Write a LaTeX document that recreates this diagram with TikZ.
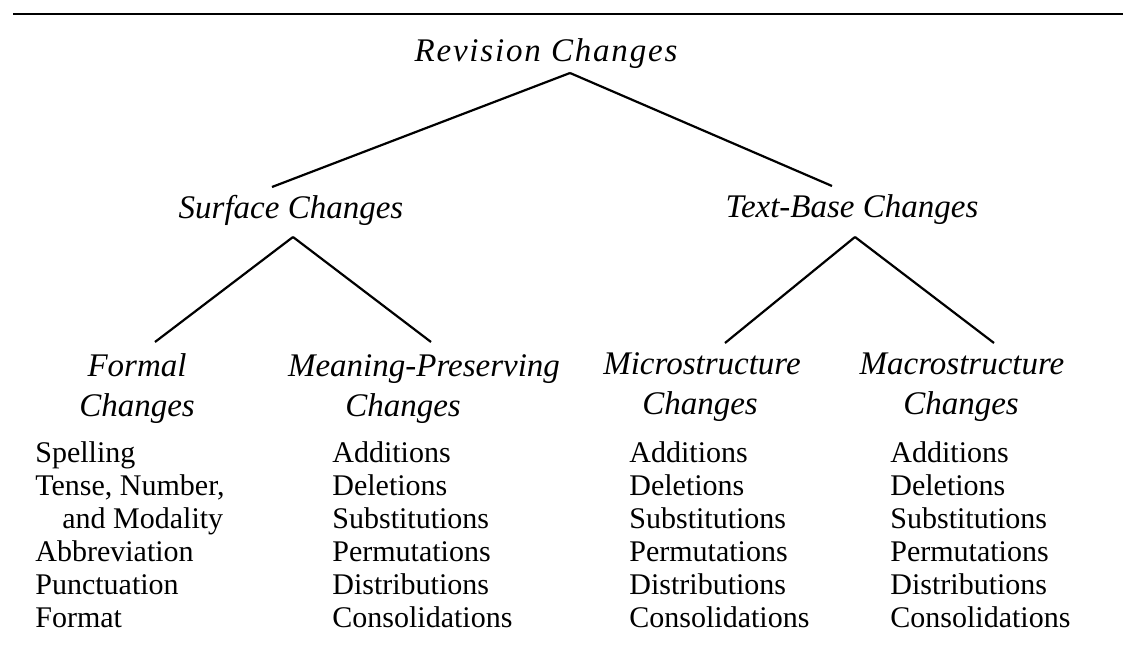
\documentclass[tikz,border=0pt]{standalone}
\usepackage{fontspec}
\setmainfont{Liberation Serif}
\newfontfamily\wideserif[LetterSpace=5.5]{Liberation Serif}
\tikzset{
  head/.style={inner sep=0pt,anchor=base,font=\fontsize{16.5}{18}\selectfont\itshape},
  item/.style={inner sep=0pt,anchor=base west,font=\fontsize{15}{16}\selectfont},
  branch/.style={draw,line width=1.1pt}
}
\begin{document}
\begin{tikzpicture}
  [x=0.5pt,y=-0.5pt]
  \useasboundingbox (0,0) rectangle (1123,651);
  \draw[line width=1pt] (13,14) -- (1123,14);

  % headings
  \node[head,font=\fontsize{16.5}{18}\wideserif\itshape] (rev) at (546,62) {Revision Changes};
  \node[head] (surf)  at (291,219) {Surface Changes};
  \node[head] (tbase) at (852,218) {Text-Base Changes};

  \node[head] (form)   at (137,377) {Formal};
  \node[head] (formb)  at (137,417) {Changes};
  \node[head] (mean)   at (424,377) {Meaning-Preserving};
  \node[head] (meanb)  at (403,417) {Changes};
  \node[head] (micro)  at (702,375) {Microstructure};
  \node[head] (microb) at (700,415) {Changes};
  \node[head] (macro)  at (962,375) {Macrostructure};
  \node[head] (macrob) at (961,415) {Changes};

  % lists
  \node[item] (form1) at (35,463)   {Spelling};
  \node[item] (form2) at (35,495.8) {Tense, Number,};
  \node[item] (form3) at (62,528.6) {and Modality};
  \node[item] (form4) at (35,561.4) {Abbreviation};
  \node[item] (form5) at (35,594.2) {Punctuation};
  \node[item] (form6) at (35,627)   {Format};
  \foreach \col/\x in {mean/332,micro/629,macro/890}
    \foreach \w [count=\i] in {Additions,Deletions,Substitutions,Permutations,Distributions,Consolidations}
      \node[item] (\col\i) at (\x,{463+(\i-1)*32.8}) {\w};

\path[branch]
    ([xshift=12pt,yshift=-5.5pt]rev.base) edge ([xshift=-9.5pt,yshift=16pt]surf.base)
    ([xshift=12pt,yshift=-5.5pt]rev.base) edge ([xshift=-10pt,yshift=16pt]tbase.base)
    ([xshift=1pt,yshift=-9pt]surf.base) edge ([xshift=9pt,yshift=17.5pt]form.base)
    ([xshift=1pt,yshift=-9pt]surf.base) edge ([xshift=3.5pt,yshift=17.5pt]mean.base)
    ([xshift=1.5pt,yshift=-9.5pt]tbase.base) edge ([xshift=11.5pt,yshift=16pt]micro.base)
    ([xshift=1.5pt,yshift=-9.5pt]tbase.base) edge ([xshift=16pt,yshift=16pt]macro.base)
    ;

\end{tikzpicture}
\end{document}
